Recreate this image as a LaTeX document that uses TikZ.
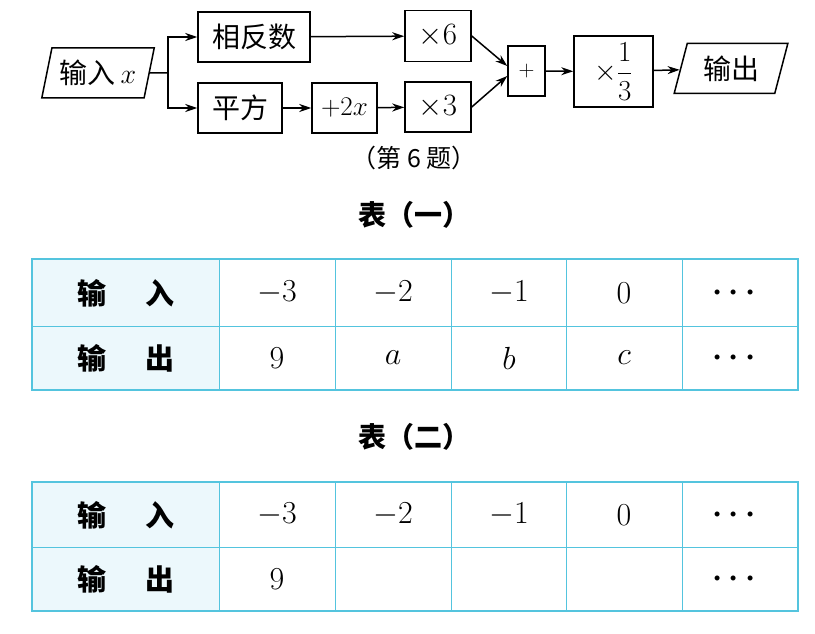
\documentclass[tikz,border=0pt]{standalone}
\usepackage{fix-cm}
\usepackage{amsmath}
\usepackage{fontspec}
\newfontfamily\cjk{Noto Sans CJK SC}
\usetikzlibrary{arrows.meta,positioning,shapes.geometric}
\definecolor{tline}{RGB}{84,196,222}
\definecolor{tfill}{RGB}{236,248,252}

\begin{document}
\begin{tikzpicture}[x=1pt, y=-1pt, >={Stealth[length=12pt,width=8pt]}, line width=1.5pt,
  box/.style={draw, inner sep=0pt, font=\fontsize{28}{30}\selectfont\cjk},
  io/.style={box, trapezium, trapezium left angle=72, trapezium right angle=108,
    trapezium stretches=true, minimum height=50pt},
  head/.style={font=\fontsize{29}{32}\selectfont\cjk\bfseries},
  num/.style={font=\fontsize{32}{36}\selectfont},
  title/.style={font=\fontsize{28}{32}\selectfont\cjk\bfseries}]
  \useasboundingbox (0,0) rectangle (815,634);
  % flow chart
  \node[io, minimum width=113pt] (in) at (98,73) {输入\,$x$};
  \node[box, minimum width=112pt, minimum height=50pt] (neg) at (254,37) {相反数};
  \node[box, minimum width=84pt, minimum height=50pt] (sq) at (240,108) {平方};
  \node[box, minimum width=65pt, minimum height=50pt, font=\fontsize{27}{30}\selectfont] (add) at (344.5,108) {${+}2x$};
  \node[box, minimum width=66pt, minimum height=51pt, font=\fontsize{31}{34}\selectfont] (mulsix) at (438,36) {$\times 6$};
  \node[box, minimum width=66pt, minimum height=50pt, font=\fontsize{31}{34}\selectfont] (multhree) at (438,107) {$\times 3$};
  \node[box, minimum width=37pt, minimum height=50pt, font=\fontsize{22}{24}\selectfont] (plus) at (526.5,71) {$+$};
  \node[box, minimum width=79pt, minimum height=71pt, font=\fontsize{29}{32}\selectfont] (third) at (613.5,71.5) {$\times\dfrac{1}{3}$};
  \node[io, minimum width=114pt] (out) at (731,68.5) {输出};
  \node[font=\fontsize{25}{28}\selectfont\cjk] (cap) at (414,158) {（第\ 6\ 题）};
  \coordinate (fork) at (168,73);
  \draw (in.east) -- (fork);
  \draw[->] (fork) |- (neg.west);
  \draw[->] (fork) |- (sq.west);
  \draw[->] (neg) -- (mulsix);
  \draw[->] (sq) -- (add);
  \draw[->] (add) -- (multhree);
  \draw[->] (mulsix.east) -- ([yshift=5pt]plus.west);
  \draw[->] (multhree.east) -- ([yshift=-5pt]plus.west);
  \draw[->] (plus) -- (third);
  \draw[->] (third) -- (out);
  % tables
  \node[title] (tabone) at (414,215) {表（一）};
  \node[title] (tabtwo) at (414,437) {表（二）};
  \foreach \ya/\yb/\yc in {259/326/390, 482/547/611} {
    \fill[tfill] (32,\ya) rectangle (219,\yc);
    \draw[tline, line width=0.8pt] (32,\yb) -- (798,\yb);
    \foreach \x in {219,335,451,566,682}
      \draw[tline, line width=0.8pt] (\x,\ya) -- (\x,\yc);
    \draw[tline, line width=1.8pt] (32,\ya) rectangle (798,\yc);
  }
  \foreach \row/\ya/\yb in {one/293/358, two/515/579} {
    \node[head] (\row in) at (126,\ya) {输\hspace{40pt}入};
    \node[head] (\row out) at (126,\yb) {输\hspace{40pt}出};
    \node[num] (\row inA) at (277,\ya) {$-3$};
    \node[num] (\row inB) at (393,\ya) {$-2$};
    \node[num] (\row inC) at (509,\ya) {$-1$};
    \node[num] (\row inD) at (624,\ya) {$0$};
    \node[num] (\row inE) at (737,\ya) {{\boldmath$\cdots$}};
    \node[num] (\row outA) at (277,\yb) {$9$};
    \node[num] (\row outE) at (737,\yb) {{\boldmath$\cdots$}};
  }
  \node[num] (one outB) at (393,358) {$a$};
  \node[num] (one outC) at (509,358) {$b$};
  \node[num] (one outD) at (624,358) {$c$};
\end{tikzpicture}
\end{document}
